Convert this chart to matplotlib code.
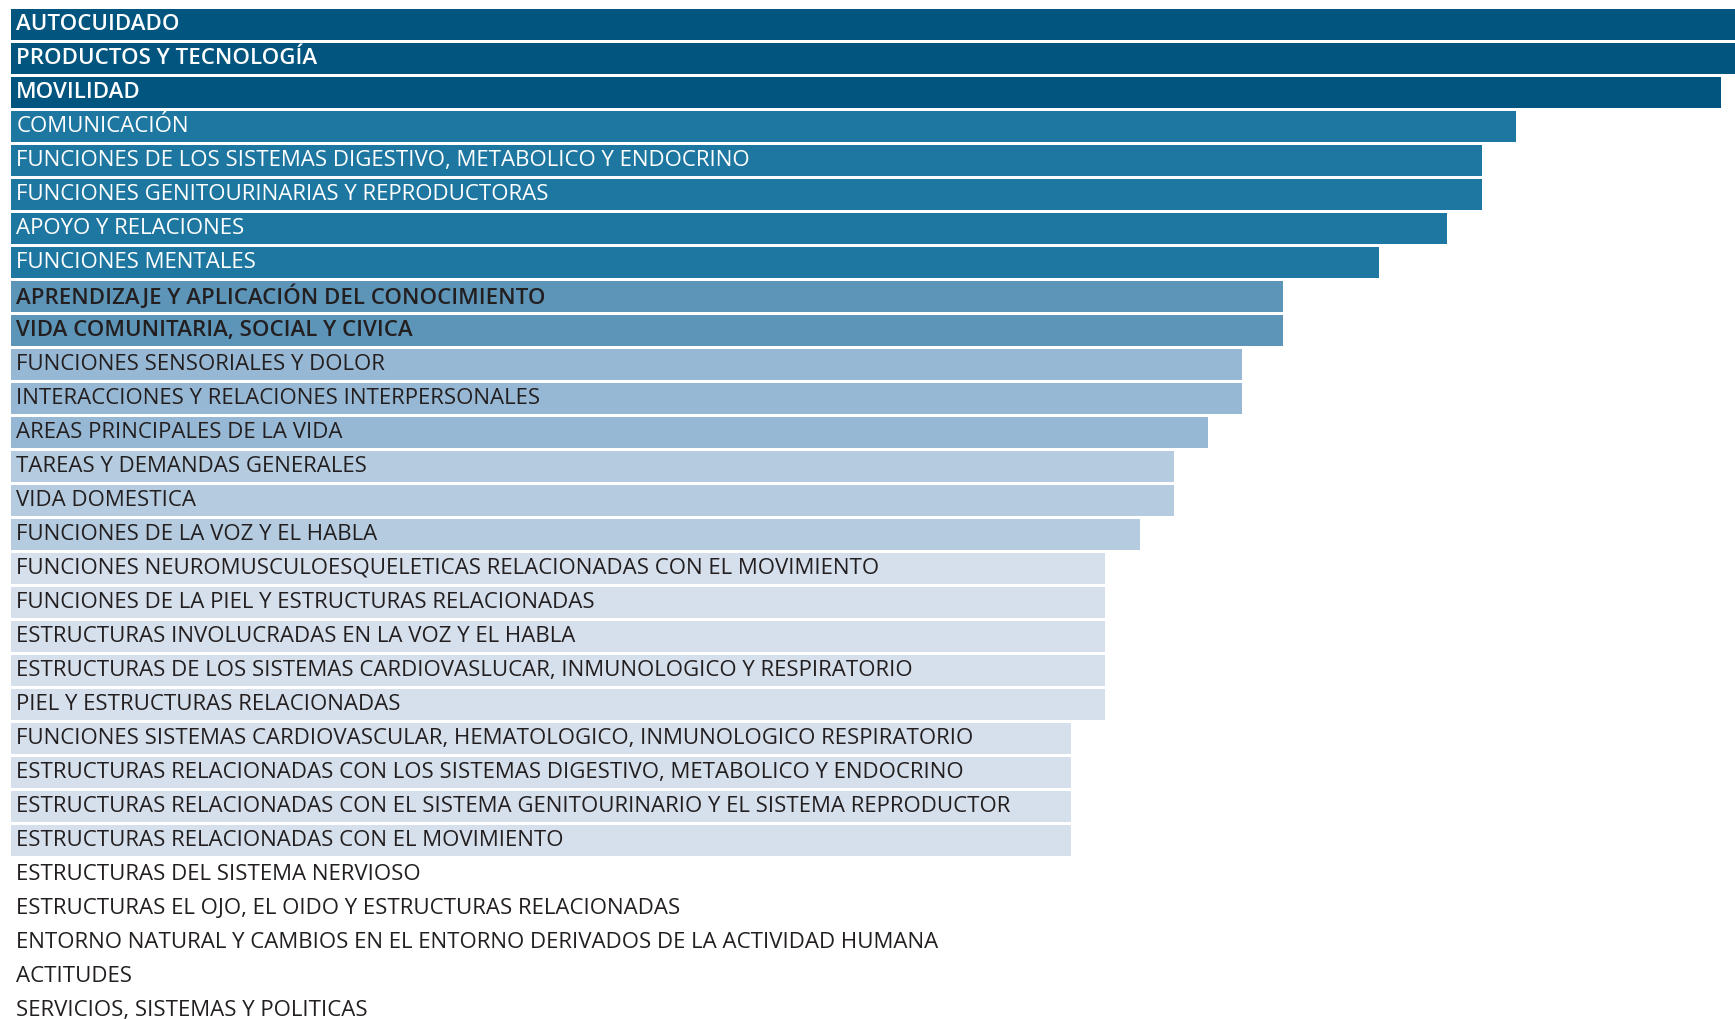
"""Horizontal bar ranking of ICF categories, labels drawn inside the bars."""

import matplotlib
matplotlib.use("Agg")
import matplotlib.pyplot as plt
from matplotlib import font_manager
from matplotlib.transforms import blended_transform_factory

CATEGORIES = [
    "AUTOCUIDADO",
    "PRODUCTOS Y TECNOLOGÍA",
    "MOVILIDAD",
    "COMUNICACIÓN",
    "FUNCIONES DE LOS SISTEMAS DIGESTIVO, METABOLICO Y ENDOCRINO",
    "FUNCIONES GENITOURINARIAS Y REPRODUCTORAS",
    "APOYO Y RELACIONES",
    "FUNCIONES MENTALES",
    "APRENDIZAJE Y APLICACIÓN DEL CONOCIMIENTO",
    "VIDA COMUNITARIA, SOCIAL Y CIVICA",
    "FUNCIONES SENSORIALES Y DOLOR",
    "INTERACCIONES Y RELACIONES INTERPERSONALES",
    "AREAS PRINCIPALES DE LA VIDA",
    "TAREAS Y DEMANDAS GENERALES",
    "VIDA DOMESTICA",
    "FUNCIONES DE LA VOZ Y EL HABLA",
    "FUNCIONES NEUROMUSCULOESQUELETICAS RELACIONADAS CON EL MOVIMIENTO",
    "FUNCIONES DE LA PIEL Y ESTRUCTURAS RELACIONADAS",
    "ESTRUCTURAS INVOLUCRADAS EN LA VOZ Y EL HABLA",
    "ESTRUCTURAS DE LOS SISTEMAS CARDIOVASLUCAR, INMUNOLOGICO Y RESPIRATORIO",
    "PIEL Y ESTRUCTURAS RELACIONADAS",
    "FUNCIONES SISTEMAS CARDIOVASCULAR, HEMATOLOGICO, INMUNOLOGICO RESPIRATORIO",
    "ESTRUCTURAS RELACIONADAS CON LOS SISTEMAS DIGESTIVO, METABOLICO Y ENDOCRINO",
    "ESTRUCTURAS RELACIONADAS CON EL SISTEMA GENITOURINARIO Y EL SISTEMA REPRODUCTOR",
    "ESTRUCTURAS RELACIONADAS CON EL MOVIMIENTO",
    "ESTRUCTURAS DEL SISTEMA NERVIOSO",
    "ESTRUCTURAS EL OJO, EL OIDO Y ESTRUCTURAS RELACIONADAS",
    "ENTORNO NATURAL Y CAMBIOS EN EL ENTORNO DERIVADOS DE LA ACTIVIDAD HUMANA",
    "ACTITUDES",
    "SERVICIOS, SISTEMAS Y POLITICAS",
]

VALUES = [51, 51, 50, 44, 43, 43, 42, 40, 37.2, 37.2, 36, 36, 35, 34, 34, 33,
          32, 32, 32, 32, 32, 31, 31, 31, 31, 0, 0, 0, 0, 0]

# colour tier per row (0 darkest)
TIER = [0, 0, 0, 1, 1, 1, 1, 1, 2, 2, 3, 3, 3, 4, 4, 4,
        5, 5, 5, 5, 5, 5, 5, 5, 5, 5, 5, 5, 5, 5]
TIER_COLORS = ["#02557f", "#1e77a1", "#5d95b9", "#97b8d4", "#b5cce0", "#d6e0ec"]
BOLD_ROWS = {0, 1, 2, 8, 9}


def pick_family():
    names = {f.name for f in font_manager.fontManager.ttflist}
    for fam in ["Open Sans", "Roboto", "Liberation Sans"]:
        if fam in names:
            return fam
    return "DejaVu Sans"


def main():
    family = pick_family()
    fig = plt.figure(figsize=(17.35, 10.19), dpi=100)
    ax = fig.add_axes([11 / 1735, 0, 1724 / 1735, 1])

    y = list(range(len(CATEGORIES)))
    colors = [TIER_COLORS[t] for t in TIER]
    ax.barh(y, VALUES, height=31 / 34, color=colors, linewidth=0)

    # size the labels so the 5th one spans ~739 px like the original
    renderer = fig.canvas.get_renderer()
    probe = fig.text(0, 0, CATEGORIES[4], fontsize=14, family=family)
    w = probe.get_window_extent(renderer).width
    probe.remove()
    size = 14 * 739 / w

    trans = blended_transform_factory(ax.transAxes, ax.transData)
    for i, label in enumerate(CATEGORIES):
        ax.text(0.003, i, label, transform=trans, va="center", ha="left",
                fontsize=size, family=family,
                fontweight="semibold" if i in BOLD_ROWS else "normal",
                color="white" if TIER[i] <= 1 else "#231f20")

    ax.set_xlim(0, 1724 / 34.2)
    ax.set_ylim(29.25, -0.72)
    ax.axis("off")
    fig.savefig("out.png", dpi=100)


if __name__ == "__main__":
    main()
